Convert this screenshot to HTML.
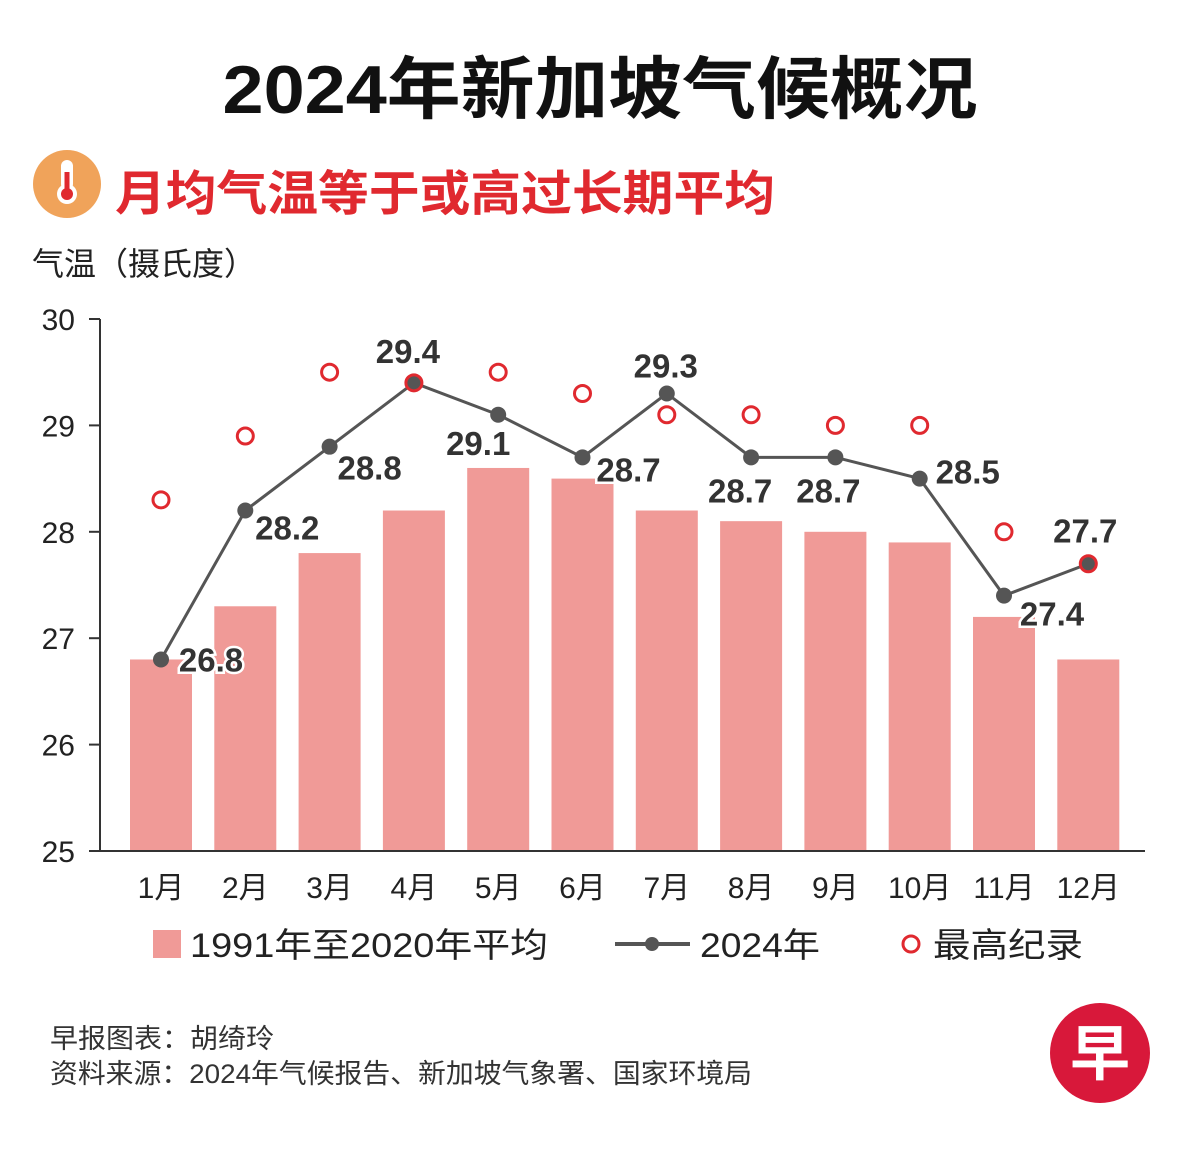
<!DOCTYPE html>
<html><head><meta charset="utf-8"><style>
body{margin:0;background:#fff;width:1200px;height:1164px;overflow:hidden;font-family:"Liberation Sans","Noto Sans CJK SC",sans-serif}
svg text{font-family:"Liberation Sans","Noto Sans CJK SC",sans-serif}
</style></head><body>
<svg width="1200" height="1164">
<text x="600" y="113" text-anchor="middle" font-size="68" font-weight="bold" fill="#111" textLength="755" lengthAdjust="spacingAndGlyphs">2024年新加坡气候概况</text>
<g>
<circle cx="67" cy="184" r="34" fill="#f0a35a"/>
<rect x="61" y="160" width="12" height="30" rx="6" fill="#fff"/>
<circle cx="67" cy="194" r="10" fill="#fff"/>
<circle cx="67" cy="194" r="6" fill="#e0292f"/>
<rect x="64.5" y="172" width="5" height="20" fill="#e0292f"/>
</g>
<text x="115" y="210" font-size="48" font-weight="bold" fill="#e0292f" textLength="660" lengthAdjust="spacingAndGlyphs">月均气温等于或高过长期平均</text>
<text x="32" y="275" font-size="32" fill="#222">气温（摄氏度）</text>
<g id="plot"></g>
<g>
<rect x="153" y="930" width="28" height="28" fill="#f09a97"/>
<text x="190" y="957" font-size="34" fill="#222" textLength="358" lengthAdjust="spacingAndGlyphs">1991年至2020年平均</text>
<line x1="615" y1="944" x2="690" y2="944" stroke="#555" stroke-width="4"/>
<circle cx="652" cy="944" r="7" fill="#555"/>
<text x="700" y="957" font-size="34" fill="#222" textLength="120" lengthAdjust="spacingAndGlyphs">2024年</text>
<circle cx="911" cy="944" r="8" fill="none" stroke="#e0292f" stroke-width="3"/>
<text x="933" y="957" font-size="34" fill="#222" textLength="150" lengthAdjust="spacingAndGlyphs">最高纪录</text>
</g>
<text x="50" y="1048" font-size="27" fill="#333" textLength="224" lengthAdjust="spacingAndGlyphs">早报图表：胡绮玲</text>
<text x="50" y="1083" font-size="27" fill="#333" textLength="702" lengthAdjust="spacingAndGlyphs">资料来源：2024年气候报告、新加坡气象署、国家环境局</text>
<g>
<circle cx="1100" cy="1053" r="50" fill="#d8183a"/>
<text x="1100" y="1075" text-anchor="middle" font-size="60" font-weight="bold" fill="#fff">早</text>
</g>
</svg>
<script>
const months=["1月","2月","3月","4月","5月","6月","7月","8月","9月","10月","11月","12月"];
const avgValues=[26.8,27.3,27.8,28.2,28.6,28.5,28.2,28.1,28.0,27.9,27.2,26.8];
const values2024=[26.8,28.2,28.8,29.4,29.1,28.7,29.3,28.7,28.7,28.5,27.4,27.7];
const recordValues=[28.3,28.9,29.5,29.4,29.5,29.3,29.1,29.1,29.0,29.0,28.0,27.7];
const yTicks=[25,26,27,28,29,30];
const labelDx=[50,42,40,-6,-20,46,-1,-11,-7,48,48,-3];
const labelDy=[0,17,21,-32,28,12,-28,33,33,-7,18,-33];
const NS="http://www.w3.org/2000/svg";
const g=document.getElementById('plot');
const y=v=>851-(v-25)*106.4;
const x=i=>161+i*84.3;
function mk(t,a,txt){const e=document.createElementNS(NS,t);for(const k in a)e.setAttribute(k,a[k]);if(txt!=null)e.textContent=txt;g.appendChild(e);return e;}
avgValues.forEach((v,i)=>{const r=mk('rect',{x:x(i)-31,y:y(v),width:62,height:851-y(v),fill:'#f09a97'});

});
let a=mk('line',{x1:100,y1:319,x2:100,y2:851,stroke:'#333','stroke-width':2});


a=mk('line',{x1:100,y1:851,x2:1145,y2:851,stroke:'#333','stroke-width':2});


yTicks.forEach(t=>{mk('line',{x1:89,y1:y(t),x2:100,y2:y(t),stroke:'#333','stroke-width':2});
const l=mk('text',{x:75,y:y(t)+11,'text-anchor':'end','font-size':30,fill:'#222'},t);

});
months.forEach((m,i)=>{const l=mk('text',{x:x(i),y:898,'text-anchor':'middle','font-size':30,fill:'#222'},m);

});
const ln=mk('polyline',{points:values2024.map((v,i)=>x(i)+','+y(v)).join(' '),fill:'none',stroke:'#555','stroke-width':3});


values2024.forEach((v,i)=>{const c=mk('circle',{cx:x(i),cy:y(v),r:8,fill:'#555'});


const t=mk('text',{x:x(i)+labelDx[i],y:y(v)+labelDy[i]+12,'text-anchor':'middle','font-size':33,'font-weight':'bold',fill:'#333',stroke:'#fff','stroke-width':5,'paint-order':'stroke'},v.toFixed(1));

});
recordValues.forEach((v,i)=>{const c=mk('circle',{cx:x(i),cy:y(v),r:8,fill:'none',stroke:'#e0292f','stroke-width':3});

});
</script>
</body></html>
